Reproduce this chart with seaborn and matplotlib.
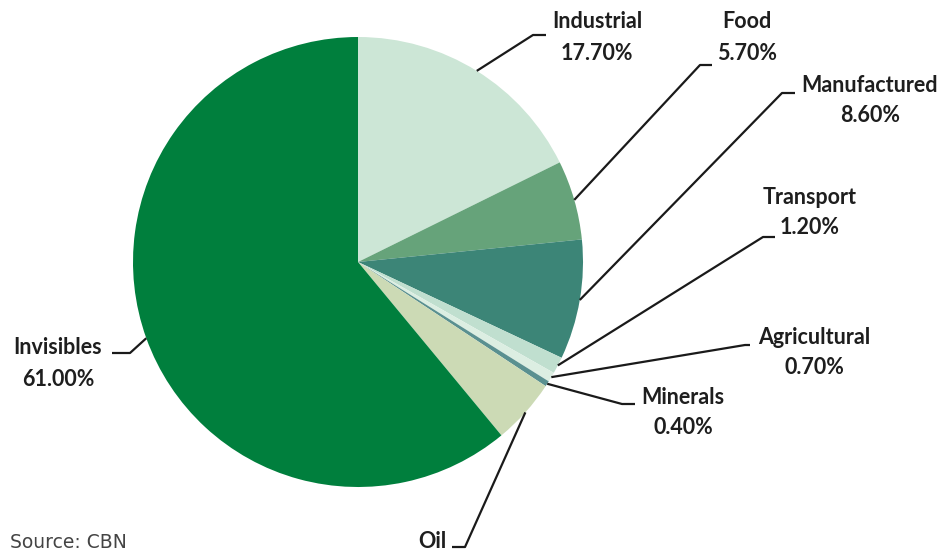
import numpy as np
import matplotlib
matplotlib.use("Agg")
import matplotlib.pyplot as plt
import seaborn as sns

# ---- data ----
categories = ["Industrial", "Food", "Manufactured", "Transport",
              "Agricultural", "Minerals", "Oil", "Invisibles"]
shares = [17.7, 5.7, 8.6, 1.2, 0.7, 0.4, 4.7, 61.0]
pct_labels = ["17.70%", "5.70%", "8.60%", "1.20%", "0.70%", "0.40%", "", "61.00%"]
colors = ["#CCE6D6", "#66A37A", "#3C8577", "#C0DFCF",
          "#DCEEE2", "#5A9090", "#CCDAB5", "#007F3D"]

W, H = 947, 553
sns.set_theme(style="white")
plt.rcParams['font.family'] = ['Lato', 'DejaVu Sans']

fig = plt.figure(figsize=(W / 100, H / 100), dpi=100)
ax = fig.add_axes([0, 0, 1, 1])

cx, cy, R = 358, H - 262, 225
wedges, _ = ax.pie(shares, colors=colors, startangle=90, counterclock=False,
                   center=(cx, cy), radius=R, frame=True,
                   wedgeprops=dict(linewidth=0))
ax.set_xlim(0, W)
ax.set_ylim(0, H)
ax.set_aspect('equal')
ax.axis('off')

# label layout (pixel coords, top-left origin): elbow, end of horizontal, text center
layout = {
    "Industrial":   dict(elbow=(533, 35), end=(546, 35), text=(597, 22)),
    "Food":         dict(elbow=(700, 65), end=(712, 65), text=(747, 22)),
    "Manufactured": dict(elbow=(782, 93), end=(795, 93), text=(870, 85)),
    "Transport":    dict(elbow=(763, 237), end=(775, 237), text=(810, 197)),
    "Agricultural": dict(elbow=(745, 345), end=(750, 345), text=(814, 337)),
    "Minerals":     dict(elbow=(622, 404), end=(635, 404), text=(683, 397)),
    "Oil":          dict(elbow=(465, 547), end=(452, 547), text=(432, 542)),
    "Invisibles":   dict(elbow=(130, 353), end=(112, 353), text=(58, 348)),
}

for w, cat, pl in zip(wedges, categories, pct_labels):
    ang = np.deg2rad((w.theta1 + w.theta2) / 2)
    sx, sy = cx + R * np.cos(ang), cy + R * np.sin(ang)
    L = layout[cat]
    ex, ey = L["elbow"]
    hx, hy = L["end"]
    ax.plot([sx, ex, hx], [sy, H - ey, H - hy], color="#1a1a1a", lw=1.6,
            solid_capstyle="butt", zorder=3)
    tx, ty = L["text"]
    ax.text(tx, H - ty, cat, ha="center", va="center", fontsize=15.5,
            fontweight="bold", color="#1e1e1e")
    if pl:
        ax.text(tx, H - ty - 31, pl, ha="center", va="center", fontsize=15.5,
                fontweight="bold", color="#1e1e1e")

ax.text(10, 5, "Source: CBN", ha="left", va="baseline", fontsize=13.5,
        color="#444444", family=["DejaVu Sans"])

fig.savefig("out.png", dpi=100)
